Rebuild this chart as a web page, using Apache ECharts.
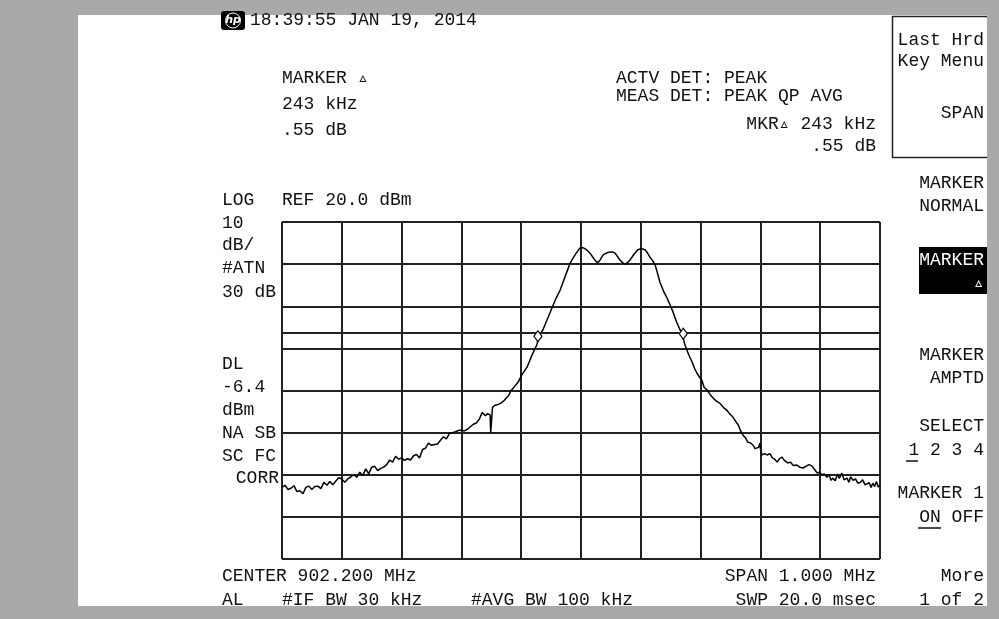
<!DOCTYPE html>
<html>
<head>
<meta charset="utf-8">
<script src="https://cdn.jsdelivr.net/npm/echarts@6/dist/echarts.min.js"></script>
<style>
html,body{margin:0;padding:0;background:#a9a9a9;}
#c{width:999px;height:619px;}
</style>
</head>
<body>
<div id="c"></div>
<script>
// Frequency offset from start frequency (kHz), start = 901.700 MHz, span 1 MHz
const offsetKHz = [0,5,10,15,20,25,30,35,40,45,50,55,60,65,70,75,80,85,90,95,100,105,110,115,120,125,130,135,140,145,150,155,160,165,170,175,180,185,190,195,200,205,210,215,220,225,230,235,240,245,250,255,260,265,270,275,280,285,290,295,300,305,310,315,320,325,330,335,340,344,348,349,350,352,356,360,366,370,375,379,383,388,395,401,410,418,426,430,436,448,457,465,473,482,490,498,503,507,511,515,519,523,528,532,537,542,548,553,557,561,565,570,574,578,582,586,590,595,599,603,607,611,615,620,624,628,632,638,644,649,654,660,666,669,673,677,681,686,690,694,698,702,706,711,716,721,727,732,738,744,749,754,759,763,767,771,775,779,783,788,791,794,797,799,801,803,807,811,816,820,824,828,832,836,840,846,850,855,861,866,871,876,881,886,891,895,899,903,907,911,915,918,921,925,929,932,936,940,945,948,951,955,959,963,967,971,975,978,982,985,988,991,994,997,1000];
// Amplitude (dBm)
const levelDbm = [-43,-42.5,-43.5,-43.2,-42.6,-44,-43.8,-44.5,-43,-42.7,-43.5,-42.8,-42.7,-43.3,-41.8,-42.5,-41.6,-42.4,-41.5,-40.7,-41,-41.8,-41,-40.5,-40,-40.6,-39.4,-40.2,-38.6,-39.8,-38.2,-38,-39,-38.5,-38.2,-37.6,-36.5,-37,-35.6,-36.3,-36,-36.6,-36.2,-36.5,-35.5,-35.2,-36,-34,-33.7,-32.5,-33,-32.8,-32.7,-31.8,-31,-31.5,-30.2,-30,-29.8,-29.5,-29.4,-29.6,-29.2,-28.6,-28,-27.7,-26.8,-25.2,-26,-25.5,-25.8,-30,-29.8,-24,-23.5,-23.4,-23,-22.6,-21.8,-21.2,-20,-19.2,-18,-16.3,-14.4,-11.6,-9.2,-7.1,-5.7,-1.6,1.5,3.8,6.9,10.3,12.2,13.8,13.9,13.6,13.2,12.6,11.8,11,10.3,11,12.2,12.6,12.9,12.9,12.6,11.8,11,10.3,10,10.4,11,11.8,12.6,13.4,13.6,13.6,13.4,12.7,11.7,10.8,9.8,7.8,5.7,3.6,1.9,0.3,-1.4,-3.8,-5.7,-6.4,-8.8,-10.4,-11.8,-13.3,-14.8,-15.9,-16.8,-17.5,-19.3,-19.9,-21,-21.8,-22.6,-23,-24,-24.7,-25.6,-26.3,-27.4,-28.2,-29.6,-30.6,-31.2,-32.3,-32.4,-33,-33.8,-34.2,-33.5,-32.5,-34.8,-35.3,-35,-35.3,-35,-36,-36.3,-37,-36.2,-35.8,-36.6,-37.2,-37,-37.8,-37.7,-38.2,-38.4,-38,-37.6,-37.9,-38.8,-39.6,-39.4,-40,-39.8,-40.6,-40,-41.3,-40.8,-41.4,-39.8,-40.9,-39.6,-41.2,-40.8,-41.8,-40.5,-41.3,-41,-42,-41.8,-41.2,-42.4,-42.5,-41.9,-43,-42,-42.8,-41.6,-42.9,-42.5];
// Delta marker pair
const markerKHz = [428, 671];
const markerDbm = [-7.1, -6.55];
const displayLineDbm = -6.4;
const refLevelDbm = 20;
const bottomDbm = -60;
const dbPerDiv = 10;
const spanKHz = 1000;
const kHzPerDiv = 100;

const FONT = '18px "Liberation Mono", "DejaVu Sans Mono", monospace';
function T(text, x, y, align, fill) {
  return {type:'text', z:10, style:{text:text, x:x, y:y, font:FONT, fill:fill||'#111',
    textAlign:align||'left', textVerticalAlign:'middle', align:align||'left', verticalAlign:'middle'}};
}
const texts = [
  T('18:39:55 JAN 19, 2014', 250, 20),
  T('MARKER \u25B5', 282, 78),
  T('243 kHz', 282, 104),
  T('.55 dB', 282, 130),
  T('ACTV DET: PEAK', 616, 78),
  T('MEAS DET: PEAK QP AVG', 616, 96),
  T('MKR\u25B5 243 kHz', 876, 124, 'right'),
  T('.55 dB', 876, 146, 'right'),
  T('LOG', 222, 200),
  T('REF 20.0 dBm', 282, 200),
  T('10', 222, 223),
  T('dB/', 222, 245),
  T('#ATN', 222, 268),
  T('30 dB', 222, 292),
  T('DL', 222, 364),
  T('-6.4', 222, 387),
  T('dBm', 222, 410),
  T('NA SB', 222, 433),
  T('SC FC', 222, 456),
  T('CORR', 279, 478, 'right'),
  T('CENTER 902.200 MHz', 222, 576),
  T('SPAN 1.000 MHz', 876, 576, 'right'),
  T('AL', 222, 600),
  T('#IF BW 30 kHz', 282, 600),
  T('#AVG BW 100 kHz', 471, 600),
  T('SWP 20.0 msec', 876, 600, 'right'),
  T('Last Hrd', 984, 40, 'right'),
  T('Key Menu', 984, 61, 'right'),
  T('SPAN', 984, 113, 'right'),
  T('MARKER', 984, 183, 'right'),
  T('NORMAL', 984, 206, 'right'),
  T('MARKER', 984, 260, 'right', '#fff'),
  T('\u25B5', 984, 283, 'right', '#fff'),
  T('MARKER', 984, 355, 'right'),
  T('AMPTD', 984, 378, 'right'),
  T('SELECT', 984, 426, 'right'),
  T('1 2 3 4', 984, 450, 'right'),
  T('MARKER 1', 984, 493, 'right'),
  T('ON OFF', 984, 517, 'right'),
  T('More', 984, 576, 'right'),
  T('1 of 2', 984, 600, 'right')
];
const shapes = [
  {type:'rect', z:0, shape:{x:78, y:15, width:909, height:591}, style:{fill:'#fff'}},
  {type:'polyline', z:5, shape:{points:[[987,16.5],[892.5,16.5],[892.5,157.5],[987,157.5]]}, style:{fill:'none', stroke:'#222', lineWidth:1.5}},
  {type:'rect', z:5, shape:{x:919, y:247, width:68, height:47}, style:{fill:'#000'}},
  {type:'line', z:5, shape:{x1:906, y1:461, x2:918, y2:461}, style:{stroke:'#111', lineWidth:1.5}},
  {type:'line', z:5, shape:{x1:918, y1:528, x2:941, y2:528}, style:{stroke:'#111', lineWidth:1.5}},
  {type:'rect', z:5, shape:{x:221, y:11, width:24, height:19, r:3}, style:{fill:'#000'}},
  {type:'circle', z:6, shape:{cx:233, cy:20.5, r:7.5}, style:{fill:'none', stroke:'#fff', lineWidth:1}},
  {type:'text', z:7, style:{text:'hp', x:233, y:20.5, font:'italic bold 11px "DejaVu Sans"', fill:'#fff',
    textAlign:'center', textVerticalAlign:'middle', align:'center', verticalAlign:'middle'}}
];

const chart = echarts.init(document.getElementById('c'), null, {renderer:'canvas'});
const trace = offsetKHz.map((f, i) => [f, levelDbm[i]]);
chart.setOption({
  animation:false,
  backgroundColor:'transparent',
  grid:{left:282, top:222, width:598, height:337, show:true, borderColor:'#222', borderWidth:2, backgroundColor:'transparent'},
  xAxis:{type:'value', min:0, max:spanKHz, interval:kHzPerDiv,
    axisLine:{show:false}, axisTick:{show:false}, axisLabel:{show:false},
    splitLine:{show:true, lineStyle:{color:'#222', width:2}}},
  yAxis:{type:'value', min:bottomDbm, max:refLevelDbm, interval:dbPerDiv,
    axisLine:{show:false}, axisTick:{show:false}, axisLabel:{show:false},
    splitLine:{show:true, lineStyle:{color:'#222', width:2}}},
  series:[{
    type:'line', data:trace, showSymbol:false, symbol:'none',
    lineStyle:{color:'#000', width:1.5}, z:3,
    markLine:{silent:true, symbol:'none', label:{show:false},
      lineStyle:{color:'#222', width:2, type:'solid'},
      data:[{yAxis:displayLineDbm}]},
    markPoint:{symbol:'diamond', symbolSize:[8,11], label:{show:false},
      itemStyle:{color:'#fff', borderColor:'#000', borderWidth:1.2},
      data:markerKHz.map((f,i)=>({coord:[f, markerDbm[i]]}))}
  }],
  graphic:{elements: shapes.concat(texts)}
});
</script>
</body>
</html>
